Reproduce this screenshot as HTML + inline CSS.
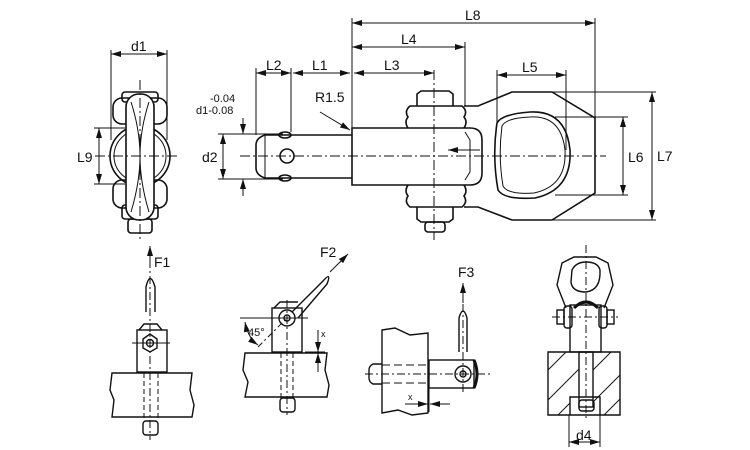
<!DOCTYPE html>
<html><head><meta charset="utf-8"><style>
html,body{margin:0;padding:0;background:#fff}
svg{display:block}
text{font-family:"Liberation Sans",sans-serif;fill:#111;stroke:none}
</style></head><body>
<svg width="750" height="450" viewBox="0 0 750 450" xmlns="http://www.w3.org/2000/svg">
<defs>
<marker id="a" markerWidth="10" markerHeight="6" refX="10" refY="3" orient="auto-start-reverse" markerUnits="userSpaceOnUse"><path d="M0,0 L10,3 L0,6 z" fill="#111" stroke="none"/></marker>
</defs>
<g fill="none" stroke="#111" stroke-width="1">

<g stroke-width="1.6">
<rect x="122" y="92" width="36" height="10" rx="3"/>
<rect x="113" y="98" width="54" height="26" rx="9"/>
<rect x="113" y="180" width="54" height="28" rx="9"/>
<rect x="122" y="205" width="36" height="14" rx="3"/>
<rect x="128" y="219" width="24" height="14" rx="3"/>
<circle cx="140" cy="156" r="30"/>
<circle cx="140" cy="156" r="26" stroke-width="1"/>
<rect x="126" y="94" width="28" height="126" rx="13" fill="#fff"/>
<path d="M131,102 Q140,130 140,156 Q140,182 131,212" stroke-width="1"/>
<path d="M149,102 Q140,130 140,156 Q140,182 149,212" stroke-width="1"/>
</g>
<line x1="140" y1="80" x2="140" y2="242" stroke-dasharray="10,3,2,3"/>
<line x1="95" y1="156" x2="178" y2="156" stroke-dasharray="10,3,2,3"/>
<line x1="111" y1="50" x2="111" y2="140"/>
<line x1="167" y1="50" x2="167" y2="140"/>
<line x1="111" y1="54" x2="167" y2="54" marker-start="url(#a)" marker-end="url(#a)"/>
<line x1="94" y1="128" x2="125" y2="128"/>
<line x1="94" y1="184" x2="125" y2="184"/>
<line x1="99" y1="128" x2="99" y2="184" marker-start="url(#a)" marker-end="url(#a)"/>

<g stroke-width="1.6">
<path d="M352,135 L265,135 Q256,138 256,145 L256,168 Q256,175 265,178 L352,178"/>
<line x1="265" y1="135" x2="265" y2="178" stroke-width="1"/>
<circle cx="287" cy="156" r="7"/>
<ellipse cx="285" cy="135" rx="6" ry="3"/>
<ellipse cx="285" cy="178" rx="6" ry="3"/>
<path d="M352,128 L470,128 Q482,128 482,140 L482,173 Q482,185 470,185 L352,185 Z"/>
<path d="M465,132 L470,140 L470,172 L465,180" stroke-width="1"/>
<path d="M417,106 L417,94 L421,91 L449,91 L453,94 L453,106"/>
<path d="M408,128 Q404,122 408,117 Q404,111 410,106 L462,106 Q468,111 464,117 Q468,122 464,128"/>
<path d="M408,185 Q404,191 408,196 Q404,202 410,207 L462,207 Q468,202 464,196 Q468,191 464,185"/>
<path d="M417,207 L417,219 L421,222 L449,222 L453,219 L453,207"/>
<rect x="425" y="222" width="20" height="10" rx="3"/>
<path d="M464,106 L478,106 L512,92 L552,92 L595,118 L595,193 L552,220 L512,220 L478,207 L464,207"/>
<path d="M497,123 Q502,114 530,112 Q566,110 570,150 Q572,190 535,198 Q504,200 498,190 Q492,156 497,123 Z"/>
<path d="M502,126 Q506,118 530,117 Q561,115 565,150 Q567,186 534,193 Q508,195 503,186 Q498,156 502,126 Z" stroke-width="1"/>
</g>
<line x1="240" y1="156" x2="606" y2="156" stroke-dasharray="10,3,2,3"/>
<line x1="434" y1="70" x2="434" y2="240" stroke-dasharray="10,3,2,3"/>
<line x1="480" y1="150" x2="448" y2="150" marker-end="url(#a)"/>
<line x1="352" y1="18" x2="352" y2="128"/>
<line x1="595" y1="18" x2="595" y2="118"/>
<line x1="352" y1="23" x2="595" y2="23" marker-start="url(#a)" marker-end="url(#a)"/>
<line x1="465" y1="42" x2="465" y2="106"/>
<line x1="352" y1="47" x2="465" y2="47" marker-start="url(#a)" marker-end="url(#a)"/>
<line x1="256" y1="68" x2="256" y2="135"/>
<line x1="291" y1="68" x2="291" y2="132"/>
<line x1="256" y1="73" x2="291" y2="73" marker-start="url(#a)" marker-end="url(#a)"/>
<line x1="293" y1="73" x2="350" y2="73" marker-start="url(#a)" marker-end="url(#a)"/>
<line x1="354" y1="73" x2="434" y2="73" marker-start="url(#a)" marker-end="url(#a)"/>
<line x1="497" y1="70" x2="497" y2="123"/>
<line x1="566" y1="70" x2="566" y2="150"/>
<line x1="497" y1="75" x2="566" y2="75" marker-start="url(#a)" marker-end="url(#a)"/>
<line x1="555" y1="117" x2="628" y2="117"/>
<line x1="555" y1="195" x2="628" y2="195"/>
<line x1="623" y1="117" x2="623" y2="195" marker-start="url(#a)" marker-end="url(#a)"/>
<line x1="552" y1="92" x2="656" y2="92"/>
<line x1="552" y1="220" x2="656" y2="220"/>
<line x1="652" y1="92" x2="652" y2="220" marker-start="url(#a)" marker-end="url(#a)"/>
<line x1="218" y1="134" x2="283" y2="134"/>
<line x1="218" y1="179" x2="283" y2="179"/>
<line x1="223" y1="134" x2="223" y2="179" marker-start="url(#a)" marker-end="url(#a)"/>
<line x1="243" y1="118" x2="243" y2="134" marker-end="url(#a)"/>
<line x1="243" y1="196" x2="243" y2="179" marker-end="url(#a)"/>
<line x1="320" y1="112" x2="350" y2="130" marker-end="url(#a)"/>

<g stroke-width="1.4">
<path d="M146,312 L146,287 Q150,270 155,287 L155,312"/>
<path d="M139,330 L144,324 L157,324 L162,330"/>
<rect x="137" y="330" width="30" height="42"/>
<path d="M143,339 L150,334 L157,339 L157,348 L150,352 L143,348 Z"/>
<circle cx="150" cy="343" r="3.5"/>
<path d="M112,373 L192,373 L190,390 L194,405 L192,417 L112,417 L114,400 L110,390 Z"/>
<rect x="143" y="421" width="15" height="14" rx="3"/>
</g>
<line x1="144" y1="373" x2="144" y2="420" stroke-dasharray="5,3"/>
<line x1="158" y1="373" x2="158" y2="420" stroke-dasharray="5,3"/>
<line x1="150" y1="260" x2="150" y2="440" stroke-dasharray="8,3,2,3"/>
<line x1="132" y1="343" x2="170" y2="343"/>
<line x1="150" y1="268" x2="150" y2="246" marker-end="url(#a)"/>

<g stroke-width="1.4">
<rect x="272" y="308" width="30" height="44"/>
<path d="M274,308 L280,302 L298,302"/>
<circle cx="287" cy="318" r="8"/>
<circle cx="287" cy="318" r="3"/>
<path d="M292,312 L323,281 Q332,271 327,284 L298,318"/>
<path d="M245,353 L327,353 L325,370 L329,385 L327,397 L245,397 L248,382 L243,370 Z"/>
<rect x="280" y="398" width="15" height="14" rx="3"/>
</g>
<line x1="281" y1="353" x2="281" y2="398" stroke-dasharray="5,3"/>
<line x1="293" y1="353" x2="293" y2="398" stroke-dasharray="5,3"/>
<line x1="287" y1="300" x2="287" y2="415" stroke-dasharray="8,3,2,3"/>
<line x1="240" y1="318" x2="308" y2="318"/>
<line x1="258" y1="347" x2="287" y2="318" stroke-dasharray="6,3,2,3"/>
<line x1="330" y1="272" x2="348" y2="254" marker-end="url(#a)"/>
<path d="M245,322 Q248,338 258,345" marker-start="url(#a)" marker-end="url(#a)"/>
<line x1="305" y1="352" x2="325" y2="352"/>
<line x1="318" y1="330" x2="318" y2="352" marker-end="url(#a)"/>
<line x1="318" y1="372" x2="318" y2="353" marker-end="url(#a)"/>

<g stroke-width="1.4">
<path d="M382,330 L395,328 L410,335 L428,333 L428,413 L412,415 L398,410 L382,413 Z"/>
<rect x="429" y="360" width="45" height="28"/>
<path d="M474,360 Q480,374 474,388" stroke-width="3"/>
<circle cx="463" cy="374" r="8"/>
<circle cx="463" cy="374" r="3"/>
<path d="M459,352 L459,318 Q463,304 467,318 L467,352"/>
<path d="M382,364 L373,364 Q369,366 369,370 L369,378 Q369,382 373,384 L382,384"/>
</g>
<line x1="382" y1="365" x2="429" y2="365" stroke-dasharray="8,4"/>
<line x1="382" y1="383" x2="429" y2="383" stroke-dasharray="8,4"/>
<line x1="365" y1="374" x2="490" y2="374" stroke-dasharray="8,3,2,3"/>
<line x1="463" y1="304" x2="463" y2="395" stroke-dasharray="8,3,2,3"/>
<line x1="463" y1="303" x2="463" y2="283" marker-end="url(#a)"/>
<line x1="429" y1="388" x2="429" y2="412"/>
<line x1="405" y1="404" x2="428" y2="404" marker-end="url(#a)"/>
<line x1="450" y1="404" x2="430" y2="404" marker-end="url(#a)"/>

<g stroke-width="1.4">
<path d="M566,308 L557,285 L562,263 L574,257 L596,257 L608,263 L613,285 L604,308"/>
<path d="M572,270 Q576,262 586,262 Q598,262 600,270 Q601,290 586,292 Q572,292 571,282 Z"/>
<rect x="570" y="305" width="31" height="47"/>
<path d="M574,308 Q586,296 598,308" stroke-width="3"/>
<rect x="564" y="306" width="8" height="22" rx="3"/>
<rect x="599" y="306" width="8" height="22" rx="3"/>
<rect x="557" y="310" width="7" height="14"/>
<rect x="607" y="310" width="7" height="14"/>
<rect x="579" y="352" width="14" height="55"/>
<path d="M548,352 L620,352 L620,415 L548,415 Z"/>
<path d="M570,415 L570,397 L600,397 L600,415"/>
<rect x="579" y="400" width="15" height="11" rx="3"/>
</g>
<g stroke-width="1">
<line x1="548" y1="370" x2="566" y2="352"/>
<line x1="548" y1="400" x2="579" y2="369"/>
<line x1="558" y1="415" x2="570" y2="403"/>
<line x1="593" y1="370" x2="611" y2="352"/>
<line x1="593" y1="402" x2="620" y2="375"/>
<line x1="604" y1="415" x2="620" y2="399"/>
</g>
<line x1="586" y1="245" x2="586" y2="420" stroke-dasharray="8,3,2,3"/>
<line x1="552" y1="317" x2="618" y2="317" stroke-dasharray="8,3,2,3"/>
<line x1="569" y1="415" x2="569" y2="447"/>
<line x1="600" y1="415" x2="600" y2="447"/>
<line x1="569" y1="442" x2="600" y2="442" marker-start="url(#a)" marker-end="url(#a)"/>
</g>

<g font-size="14">
<text x="131" y="51">d1</text>
<text x="77" y="162">L9</text>
<text x="266" y="70">L2</text>
<text x="312" y="70">L1</text>
<text x="384" y="70">L3</text>
<text x="401" y="44">L4</text>
<text x="465" y="20">L8</text>
<text x="522" y="72">L5</text>
<text x="628" y="162">L6</text>
<text x="657" y="161">L7</text>
<text x="202" y="162">d2</text>
<text x="315" y="102">R1.5</text>
<text x="576" y="440">d4</text>
<text x="154" y="267">F1</text>
<text x="320" y="257">F2</text>
<text x="458" y="277">F3</text>
</g>
<text x="210" y="102" font-size="11">-0.04</text>
<text x="196" y="114" font-size="11">d1-0.08</text>
<text x="248" y="336" font-size="11">45°</text>
<text x="321" y="337" font-size="9">x</text>
<text x="408" y="400" font-size="9">x</text>
</svg>
</body></html>
